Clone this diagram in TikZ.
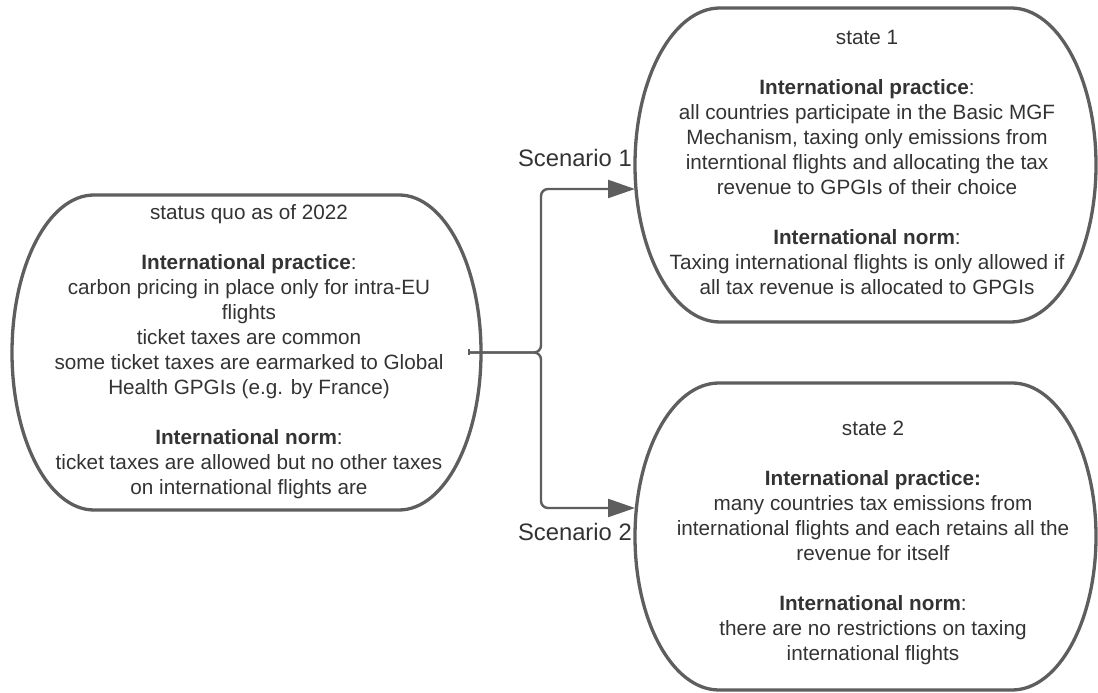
\documentclass[tikz,border=0pt]{standalone}
\usepackage{fontspec}
\setmainfont{Liberation Sans}
\usetikzlibrary{arrows.meta,calc}
\definecolor{linec}{HTML}{5E5E5E}
\definecolor{txtc}{HTML}{333333}
\newcommand\drawstadium[3]{%
  \draw[border]
   ($(#1.north west)+(#2,0)$) -- ($(#1.north east)+(-#2,0)$)
   arc[start angle=90, end angle=-90, x radius=#2, y radius=#3]
   -- ($(#1.south west)+(#2,0)$)
   arc[start angle=270, end angle=90, x radius=#2, y radius=#3] -- cycle;}
\begin{document}
\begin{tikzpicture}[x=1pt,y=1pt,
  frame/.style={inner sep=0pt, outer sep=0pt, draw=none},
  border/.style={draw=linec, line width=3.3pt},
  body/.style={align=center, text=txtc, font=\fontsize{20.7}{25}\selectfont, inner sep=0pt},
  lab/.style={text=txtc, font=\fontsize{23.8}{28}\selectfont, inner sep=0pt},
  conn/.style={draw=linec, line width=2.4pt, rounded corners=7pt,
    {Bar[width=6pt,length=1.5pt]}-{Triangle[length=27pt,width=18pt]}}]
\fill[white] (0,0) rectangle (1098,693);
\useasboundingbox (0,0) rectangle (1098,693);

\node[frame, minimum width=469pt, minimum height=315pt] (L) at (246.5,340.5) {};
\node[frame, minimum width=461pt, minimum height=314pt] (S1) at (865.5,528) {};
\node[frame, minimum width=461pt, minimum height=307pt] (S2) at (865.5,156.5) {};

\drawstadium{L}{82}{157.5}
\drawstadium{S1}{85}{157}
\drawstadium{S2}{84}{153.5}

\node[body] (Lt) at (249,340.5) {\strut status quo as of 2022\\[25pt]
  \textbf{International practice}:\\
  carbon pricing in place only for intra-EU\\
  flights\\
  ticket taxes are common\\
  some ticket taxes are earmarked to Global\\
  Health GPGIs (e.g. by France)\\[25pt]
  \textbf{International norm}:\\
  ticket taxes are allowed but no other taxes\\
  on international flights are\strut};

\node[body] (S1t) at (867,528) {\strut state 1\\[25pt]
  \textbf{International practice}:\\
  all countries participate in the Basic MGF\\
  Mechanism, taxing only emissions from\\
  interntional flights and allocating the tax\\
  revenue to GPGIs of their choice\\[25pt]
  \textbf{International norm}:\\
  Taxing international flights is only allowed if\\
  all tax revenue is allocated to GPGIs\strut};

\node[body] (S2t) at (873,149.5) {\strut state 2\\[25pt]
  \textbf{International practice:}\\
  many countries tax emissions from\\
  international flights and each retains all the\\
  revenue for itself\\[25pt]
  \textbf{International norm}:\\
  there are no restrictions on taxing\\
  international flights\strut};

\coordinate (start) at ($(L.east)+(-13,0)$);
\draw[conn] (start) -- ++(73,0) |- ($(S1.west)+(0,-24)$);
\draw[conn] (start) -- ++(73,0) |- ($(S2.west)+(0,28.5)$);

\node[lab, anchor=east] (sc1) at (632,535) {Scenario 1};
\node[lab, anchor=east] (sc2) at (632,161) {Scenario 2};
\end{tikzpicture}
\end{document}
